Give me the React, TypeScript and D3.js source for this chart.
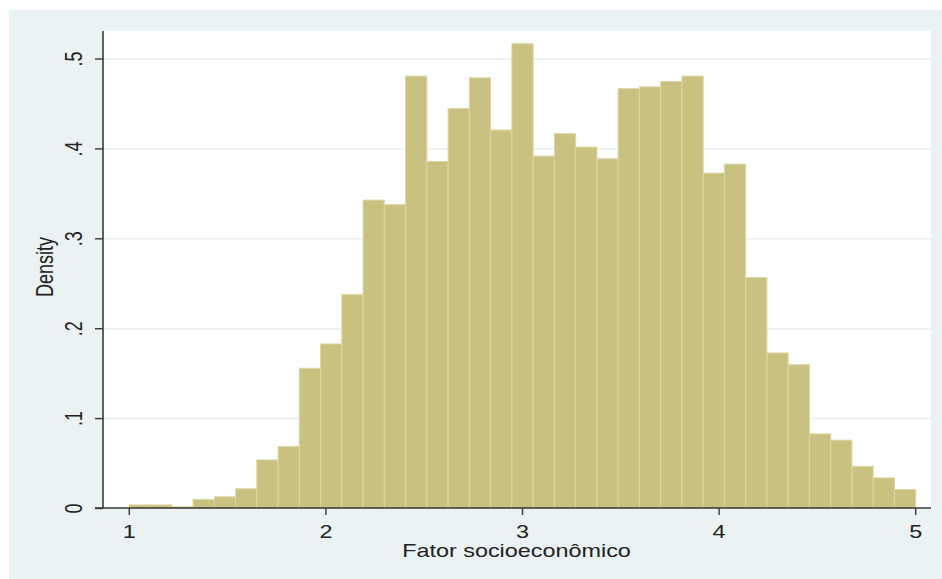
import * as d3 from 'd3';

// histogram of "Fator socioeconômico", 37 bins from 1 to 5
const binRange: [number, number] = [1, 5];
const densities = [
  0.004, 0.004, 0.002, 0.01, 0.013, 0.022, 0.054, 0.069, 0.156, 0.183,
  0.238, 0.343, 0.338, 0.481, 0.386, 0.445, 0.479, 0.421, 0.517, 0.392,
  0.417, 0.402, 0.389, 0.467, 0.469, 0.475, 0.481, 0.373, 0.383, 0.257,
  0.173, 0.16, 0.083, 0.076, 0.047, 0.034, 0.021,
];
const xTicks = [1, 2, 3, 4, 5];
const yTicks = [0, 0.1, 0.2, 0.3, 0.4, 0.5];
const yTickLabels = ['0', '.1', '.2', '.3', '.4', '.5'];
const xTitle = 'Fator socioeconômico';
const yTitle = 'Density';

export default function App() {
  const width = 942;
  const height = 579;
  const plot = { left: 103, right: 931, top: 31, bottom: 508 };
  const stretch = 1.3; // the picture is wider than the text's natural width

  const x = d3.scaleLinear().domain(binRange).range([129.3, 915.7]);
  const y = d3.scaleLinear().domain([0, 0.5]).range([508.5, 59]);

  const binWidth = (binRange[1] - binRange[0]) / densities.length;
  const bins = densities.map((d, i) => ({
    x0: binRange[0] + i * binWidth,
    x1: binRange[0] + (i + 1) * binWidth,
    d,
  }));

  const font = '"Liberation Sans", Arial, sans-serif';
  const axisColor = '#3a3a3a';

  return (
    <svg
      width={width}
      height={height}
      style={{ position: 'absolute', left: 0, top: 0 }}
      fontFamily={font}
    >
      <rect x={0} y={0} width={width} height={height} fill="#ffffff" />
      <rect x={9} y={10} width={width - 9} height={height - 10} fill="#eaf2f3" />
      <rect
        x={plot.left}
        y={plot.top}
        width={plot.right - plot.left}
        height={plot.bottom - plot.top}
        fill="#ffffff"
      />

      {/* grid */}
      {yTicks.slice(1).map((t) => (
        <line
          key={t}
          x1={plot.left}
          x2={plot.right}
          y1={y(t)}
          y2={y(t)}
          stroke="#e8f0f1"
          strokeWidth={1.5}
        />
      ))}

      {/* bars */}
      {bins.map((b, i) => (
        <rect
          key={i}
          x={x(b.x0)}
          y={y(b.d)}
          width={x(b.x1) - x(b.x0)}
          height={y(0) - y(b.d)}
          fill="#c9c17f"
          stroke="#dcd6a6"
          strokeWidth={1}
        />
      ))}

      {/* axes */}
      <line x1={plot.left} x2={plot.left} y1={plot.top} y2={plot.bottom} stroke={axisColor} strokeWidth={1.6} />
      <line x1={plot.left - 8} x2={plot.right} y1={plot.bottom} y2={plot.bottom} stroke={axisColor} strokeWidth={1.6} />

      {yTicks.map((t, i) => (
        <g key={t}>
          <line x1={plot.left - 8} x2={plot.left} y1={y(t)} y2={y(t)} stroke={axisColor} strokeWidth={1.4} />
          <text
            transform={`translate(82,${y(t)}) scale(${stretch},1) rotate(-90)`}
            textAnchor="middle"
            fontSize={18}
            fill="#222"
          >
            {yTickLabels[i]}
          </text>
        </g>
      ))}

      {xTicks.map((t) => (
        <g key={t}>
          <line x1={x(t)} x2={x(t)} y1={plot.bottom} y2={plot.bottom + 7} stroke={axisColor} strokeWidth={1.4} />
          <text
            transform={`translate(${x(t)},538) scale(${stretch},1)`}
            textAnchor="middle"
            fontSize={18}
            fill="#222"
          >
            {t}
          </text>
        </g>
      ))}

      <text
        transform={`translate(516.5,556.5) scale(${stretch},1)`}
        textAnchor="middle"
        fontSize={18}
        fill="#222"
      >
        {xTitle}
      </text>
      <text
        transform={`translate(53,267) scale(${stretch},1) rotate(-90)`}
        textAnchor="middle"
        fontSize={18}
        fill="#222"
      >
        {yTitle}
      </text>
    </svg>
  );
}
